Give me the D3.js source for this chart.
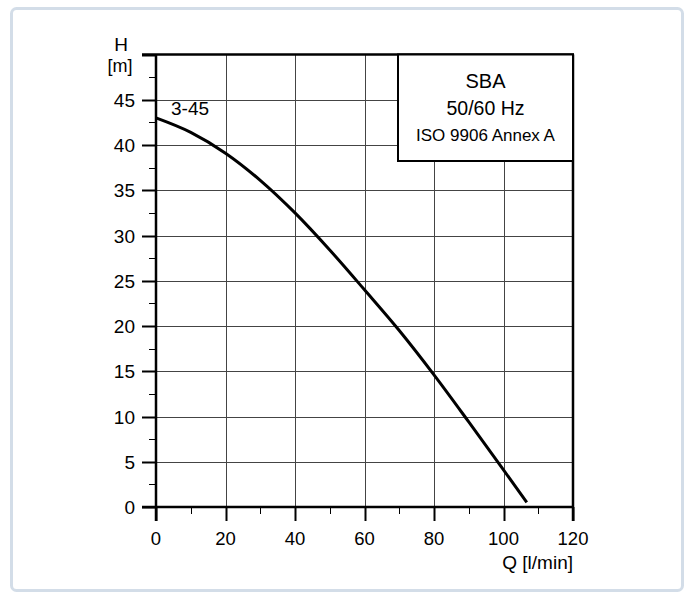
<!DOCTYPE html>
<html>
<head>
<meta charset="utf-8">
<script src="https://cdn.jsdelivr.net/npm/d3@7"></script>
<style>
html,body{margin:0;padding:0;background:#fff;}
svg{display:block;font-family:"Liberation Sans",Arial,sans-serif;}
</style>
</head>
<body>
<svg id="chart" width="686" height="594"></svg>
<script>
// Data
const flowQ = [0, 10, 20, 30, 40, 50, 60, 70, 80, 90, 100, 106.7];
const headH = [43, 41.4, 39.1, 36.1, 32.5, 28.4, 24.0, 19.5, 14.6, 9.4, 4.1, 0.5];
const curveName = "3-45";
const xTicks = [0, 20, 40, 60, 80, 100, 120];
const yTicks = [0, 5, 10, 15, 20, 25, 30, 35, 40, 45];
const legendLines = ["SBA", "50/60 Hz", "ISO 9906 Annex A"];

const svg = d3.select("#chart");

// outer frame
svg.append("rect").attr("x", 11.5).attr("y", 8.5).attr("width", 671).attr("height", 582)
  .attr("rx", 5).attr("fill", "#fff").attr("stroke", "#d3dde8").attr("stroke-width", 3);

const x = d3.scaleLinear().domain([0, 120]).range([156, 573]);
const y = d3.scaleLinear().domain([0, 50]).range([507, 54.5]);

const g = svg.append("g");

// grid
g.selectAll(".vg").data([20, 40, 60, 80, 100]).join("line")
  .attr("x1", d => Math.round(x(d)) + 0.5).attr("x2", d => Math.round(x(d)) + 0.5)
  .attr("y1", y(50)).attr("y2", y(0)).attr("stroke", "#444").attr("stroke-width", 1);
g.selectAll(".hg").data(yTicks.filter(d => d > 0)).join("line")
  .attr("y1", d => Math.round(y(d)) + 0.5).attr("y2", d => Math.round(y(d)) + 0.5)
  .attr("x1", x(0)).attr("x2", x(120)).attr("stroke", "#444").attr("stroke-width", 1);

// y axis ticks
g.selectAll(".ytick").data(d3.range(0, 50.1, 2.5)).join("line")
  .attr("x1", d => d % 5 === 0 ? x(0) - 14 : x(0) - 7).attr("x2", x(0))
  .attr("y1", d => Math.round(y(d)) + 0.5).attr("y2", d => Math.round(y(d)) + 0.5)
  .attr("stroke", "#000").attr("stroke-width", d => d % 5 === 0 ? 2 : 1);
g.selectAll(".ylab").data(yTicks).join("text")
  .attr("x", x(0) - 21).attr("y", d => y(d) + 7)
  .attr("text-anchor", "end").attr("font-size", 19).text(d => d);

// x axis ticks
g.selectAll(".xtick").data(d3.range(0, 120.1, 10)).join("line")
  .attr("x1", d => Math.round(x(d)) + 0.5).attr("x2", d => Math.round(x(d)) + 0.5)
  .attr("y1", y(0)).attr("y2", d => d % 20 === 0 ? y(0) + 14 : y(0) + 7)
  .attr("stroke", "#000").attr("stroke-width", d => d % 20 === 0 ? 2 : 1);
g.selectAll(".xlab").data(xTicks).join("text")
  .attr("x", d => x(d)).attr("y", 545)
  .attr("text-anchor", "middle").attr("font-size", 18.5).text(d => d);

// frame lines
g.append("line").attr("x1", x(0)).attr("x2", x(0)).attr("y1", y(50)).attr("y2", y(0) + 14)
  .attr("stroke", "#000").attr("stroke-width", 2.5);
g.append("line").attr("x1", x(0) - 14).attr("x2", x(120) + 1).attr("y1", y(0)).attr("y2", y(0))
  .attr("stroke", "#000").attr("stroke-width", 2.5);
g.append("line").attr("x1", x(0) - 14).attr("x2", x(120) + 1).attr("y1", y(50)).attr("y2", y(50))
  .attr("stroke", "#000").attr("stroke-width", 2.5);
g.append("line").attr("x1", x(120)).attr("x2", x(120)).attr("y1", y(50)).attr("y2", y(0) + 14)
  .attr("stroke", "#000").attr("stroke-width", 2.5);

// axis titles
g.append("text").attr("x", 121).attr("y", 51).attr("text-anchor", "middle").attr("font-size", 19).text("H");
g.append("text").attr("x", 120).attr("y", 72).attr("text-anchor", "middle").attr("font-size", 18).text("[m]");
g.append("text").attr("x", 573).attr("y", 569).attr("text-anchor", "end").attr("font-size", 19).text("Q [l/min]");

// curve
const pts = flowQ.map((q, i) => [q, headH[i]]);
const line = d3.line().x(d => x(d[0])).y(d => y(d[1])).curve(d3.curveMonotoneX);
g.append("path").attr("d", line(pts)).attr("fill", "none").attr("stroke", "#000").attr("stroke-width", 3);

// curve label with white background
const lblBg = g.append("rect").attr("fill", "#fff");
const lbl = g.append("text").attr("x", 171).attr("y", 115).attr("font-size", 19).text(curveName);
const bb = lbl.node().getBBox();
lblBg.attr("x", bb.x).attr("y", bb.y + 3).attr("width", bb.width).attr("height", bb.height - 6);

// legend box
const lx0 = 398, lx1 = x(120), ly0 = y(50), ly1 = 161;
g.append("rect").attr("x", lx0).attr("y", ly0).attr("width", lx1 - lx0).attr("height", ly1 - ly0)
  .attr("fill", "#fff").attr("stroke", "#000").attr("stroke-width", 2);
const lsizes = [20, 19.5, 17];
const lys = [88, 115, 141];
legendLines.forEach((t, i) => {
  g.append("text").attr("x", (lx0 + lx1) / 2).attr("y", lys[i]).attr("text-anchor", "middle")
    .attr("font-size", lsizes[i]).text(t);
});
</script>
</body>
</html>
